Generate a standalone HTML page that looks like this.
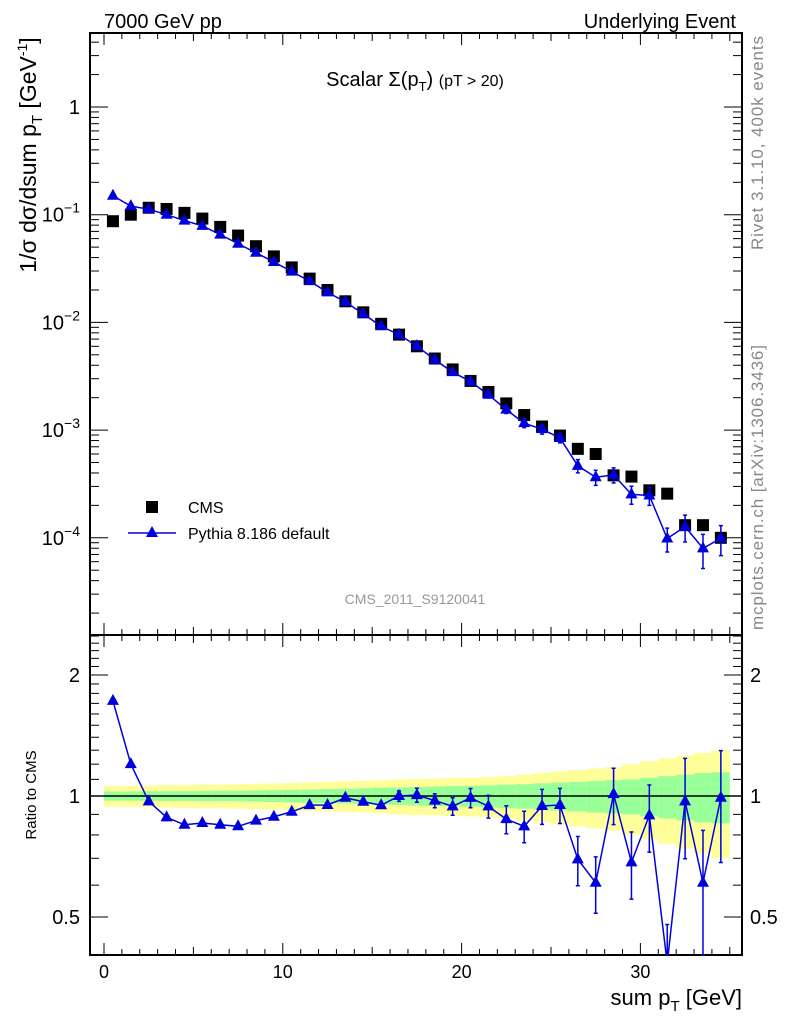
<!DOCTYPE html>
<html><head><meta charset="utf-8"><style>
html,body{margin:0;padding:0;background:#fff;}
svg{display:block;font-family:"Liberation Sans",Arial,sans-serif;}
</style></head><body>
<svg id="c" width="786" height="1024" viewBox="0 0 786 1024" xmlns="http://www.w3.org/2000/svg">
<text x="104" y="28" font-size="20">7000 GeV pp</text>
<text x="736" y="28" font-size="20" text-anchor="end">Underlying Event</text>
<text x="415" y="86" font-size="20" text-anchor="middle">Scalar Σ(p<tspan font-size="13" dy="5">T</tspan><tspan dy="-5">) </tspan><tspan font-size="16">(pT &gt; 20)</tspan></text>
<text transform="translate(36,155) rotate(-90)" font-size="23" text-anchor="middle">1/σ dσ/dsum p<tspan font-size="15" dy="6">T</tspan><tspan dy="-6"> [GeV</tspan><tspan font-size="14" dy="-9">-1</tspan><tspan dy="9">]</tspan></text>
<text transform="translate(36,795) rotate(-90)" font-size="15" text-anchor="middle">Ratio to CMS</text>
<text x="742" y="1005" font-size="22" text-anchor="end">sum p<tspan font-size="15" dy="6">T</tspan><tspan dy="-6"> [GeV]</tspan></text>
<text transform="translate(763,250) rotate(-90)" font-size="17" fill="#888" textLength="214">Rivet 3.1.10,  400k events</text>
<text transform="translate(763,630) rotate(-90)" font-size="17" fill="#888" textLength="285">mcplots.cern.ch [arXiv:1306.3436]</text>
<text x="415" y="604" font-size="14" fill="#999" text-anchor="middle">CMS_2011_S9120041</text>
<g>
<rect x="146" y="501" width="12" height="12" fill="#000"/>
<text x="188" y="513" font-size="16">CMS</text>
<line x1="128" y1="533" x2="176" y2="533" stroke="#0000dd" stroke-width="1.5"/>
<path d="M152,526 L158,537 L146,537 Z" fill="#0000dd"/>
<text x="188" y="539" font-size="16">Pythia 8.186 default</text>
</g>
<g id="plot"></g>
</svg>
<script>
const xCenters=[0.5,1.5,2.5,3.5,4.5,5.5,6.5,7.5,8.5,9.5,10.5,11.5,12.5,13.5,14.5,15.5,16.5,17.5,18.5,19.5,20.5,21.5,22.5,23.5,24.5,25.5,26.5,27.5,28.5,29.5,30.5,31.5,32.5,33.5,34.5];
const cmsValues=[0.087,0.1,0.116,0.113,0.104,0.092,0.077,0.064,0.051,0.041,0.0324,0.0255,0.020,0.0157,0.0124,0.0097,0.0077,0.0060,0.00462,0.00366,0.00286,0.00226,0.00177,0.00138,0.00108,0.00089,0.00067,0.0006,0.00038,0.00037,0.000276,0.000257,0.000131,0.000131,0.0001];
const mcValues=[0.150,0.120,0.1125,0.100,0.0882,0.0788,0.0653,0.0538,0.0443,0.0364,0.0296,0.0242,0.019,0.01554,0.0120,0.0092,0.0077,0.00603,0.0045,0.00345,0.00283,0.00213,0.00155,0.00116,0.00102,0.000845,0.000466,0.000365,0.000384,0.000253,0.000247,0.0000985,0.000127,0.0000797,0.000099];
const mcErrFrac=[0.005,0.005,0.005,0.005,0.005,0.006,0.006,0.007,0.008,0.009,0.01,0.01,0.012,0.014,0.016,0.02,0.03,0.04,0.04,0.05,0.055,0.065,0.08,0.09,0.1,0.1,0.14,0.16,0.16,0.19,0.19,0.25,0.28,0.35,0.31];
const cmsTotFrac=[0.06,0.06,0.062,0.064,0.066,0.067,0.068,0.07,0.072,0.075,0.078,0.082,0.085,0.088,0.09,0.095,0.1,0.103,0.105,0.108,0.11,0.115,0.12,0.13,0.14,0.15,0.16,0.17,0.18,0.2,0.22,0.24,0.26,0.28,0.3];
const cmsStatFrac=[0.026,0.026,0.027,0.028,0.028,0.029,0.03,0.03,0.032,0.034,0.036,0.038,0.04,0.042,0.045,0.048,0.05,0.053,0.056,0.058,0.06,0.063,0.067,0.07,0.075,0.08,0.085,0.09,0.095,0.1,0.11,0.12,0.13,0.14,0.145];
const xTicks=[0,10,20,30];
const yTicks=[1,-1,-2,-3,-4];
const ratioTicks=[0.5,1,2];

const NS='http://www.w3.org/2000/svg';
const g=document.getElementById('plot');
const L=90,R=742,T=33,D=635,B=955;
function X(v){return 104+v*17.88;}
function Y(v){return 107-107.7*Math.log10(v);}
function RY(r){return 796-121*Math.log2(r);}
function mk(tag,attrs,parent){const e=document.createElementNS(NS,tag);for(const k in attrs)e.setAttribute(k,attrs[k]);(parent||g).appendChild(e);return e;}
function clipR(y){return Math.max(D,Math.min(B,y));}

for(let i=0;i<xCenters.length;i++){
  const x0=X(xCenters[i]-0.5),x1=X(xCenters[i]+0.5);
  const t=cmsTotFrac[i],s=cmsStatFrac[i];
  let r=mk('rect',{x:x0,y:RY(1+t),width:x1-x0,height:RY(1-t)-RY(1+t),fill:'#ffff99'});
  
  
  let r2=mk('rect',{x:x0,y:RY(1+s),width:x1-x0,height:RY(1-s)-RY(1+s),fill:'#99ff99'});
  
  
}
let ul=mk('line',{x1:L,x2:R,y1:RY(1),y2:RY(1),stroke:'#000','stroke-width':1.5});



for(const [t,b,n] of [[T,D,'main-frame'],[D,B,'ratio-frame']]){
  let f=mk('rect',{x:L,y:t,width:R-L,height:b-t,fill:'none',stroke:'#000','stroke-width':2});
  
  
}
for(let v=0;v<=35;v++){
  const maj=v%10===0, mid=v%5===0;
  const len=maj?12:(mid?8:6);
  for(const [y0,dir] of [[T,1],[D,-1],[D,1],[B,-1]]){
    mk('line',{x1:X(v),x2:X(v),y1:y0,y2:y0+dir*len,stroke:'#000','stroke-width':1});
  }
}
for(const v of xTicks){
  let t=mk('text',{x:X(v),y:978,'font-size':18,'text-anchor':'middle'});
  t.textContent=v;
  
  
}
for(let d=-5;d<=0;d++){
  for(let m=1;m<=9;m++){
    const v=m*Math.pow(10,d);const y=Y(v);
    if(y<T||y>D)continue;
    const len=m===1?18:9;
    mk('line',{x1:L,x2:L+len,y1:y,y2:y,stroke:'#000'});
    mk('line',{x1:R,x2:R-len,y1:y,y2:y,stroke:'#000'});
  }
}
for(const d of yTicks){
  let t;
  if(d===1){t=mk('text',{x:80,y:Y(1)+7,'font-size':20,'text-anchor':'end'});t.textContent='1';}
  else{t=mk('text',{x:80,y:Y(Math.pow(10,d))+7,'font-size':20,'text-anchor':'end'});
    t.appendChild(document.createTextNode('10'));
    const s=document.createElementNS(NS,'tspan');s.setAttribute('dy','-9');s.setAttribute('font-size','14');s.textContent='\u2212'+(-d);t.appendChild(s);}
  
  
}
for(const v of [0.4,0.5,0.6,0.7,0.8,0.9,1,1.1,1.2,1.3,1.4,1.5,1.6,1.7,1.8,1.9,2,2.1,2.2,2.3,2.4,2.5]){
  const y=RY(v);if(y<D||y>B)continue;
  const maj=Math.abs(v-0.5)<1e-6||Math.abs(v-1)<1e-6||Math.abs(v-2)<1e-6;
  const len=maj?18:9;
  mk('line',{x1:L,x2:L+len,y1:y,y2:y,stroke:'#000'});
  mk('line',{x1:R,x2:R-len,y1:y,y2:y,stroke:'#000'});
}
for(const v of ratioTicks){
  let t=mk('text',{x:80,y:RY(v)+7,'font-size':20,'text-anchor':'end'});t.textContent=v;
  
  
  let t2=mk('text',{x:750,y:RY(v)+7,'font-size':20});t2.textContent=v;
  
  
}
for(let i=0;i<xCenters.length;i++){
  let r=mk('rect',{x:X(xCenters[i])-6,y:Y(cmsValues[i])-6,width:12,height:12,fill:'#000'});
  
  
}
function tri(x,y,name){
  let p=mk('path',{d:`M${x},${y-7} L${x+6},${y+4} L${x-6},${y+4} Z`,fill:'#0000dd'});
  
  
}
function errbar(x,y1,y2,name){
  let e=mk('path',{d:`M${x},${y1} L${x},${y2} M${x-2},${y1} L${x+2},${y1} M${x-2},${y2} L${x+2},${y2}`,stroke:'#0000dd','stroke-width':1.5,fill:'none'});
  
  
}
let pts=xCenters.map((x,i)=>X(x)+','+Y(mcValues[i])).join(' ');
let pl=mk('polyline',{points:pts,fill:'none',stroke:'#0000dd','stroke-width':1.5});


for(let i=0;i<xCenters.length;i++){
  const v=mcValues[i],e=mcErrFrac[i];
  if(e>0.02)errbar(X(xCenters[i]),Y(v*(1+e)),Y(v*(1-e)),'mc-error-bar');
  tri(X(xCenters[i]),Y(v),'mc-point');
}
const ratios=mcValues.map((v,i)=>v/cmsValues[i]);
let rp=xCenters.map((x,i)=>X(x)+','+RY(ratios[i])).join(' ');
let cp=mk('clipPath',{id:'rc'});mk('rect',{x:L,y:D,width:R-L,height:B-D},cp);
let rl=mk('polyline',{points:rp,fill:'none',stroke:'#0000dd','stroke-width':1.5,'clip-path':'url(#rc)'});


for(let i=0;i<xCenters.length;i++){
  const r=ratios[i],e=mcErrFrac[i];
  const yc=RY(r);
  if(e>0.02)errbar(X(xCenters[i]),clipR(RY(r*(1+e))),clipR(RY(r*(1-e))),'ratio-error-bar');
  if(yc>=D&&yc<=B)tri(X(xCenters[i]),yc,'ratio-point');
}
</script>
</body></html>
